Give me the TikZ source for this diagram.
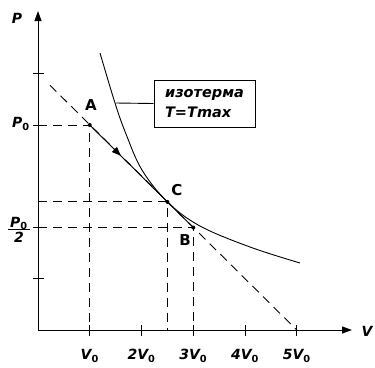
\documentclass[tikz,border=0pt]{standalone}
\usepackage{fontspec}
\setmainfont{DejaVu Sans}
\usetikzlibrary{arrows.meta,decorations.markings}
\newcommand\zsub[1]{\textsubscript{\upshape\bfseries #1}}
\begin{document}
\begin{tikzpicture}[x=1pt,y=-1pt,
  lbl/.style={font=\fontsize{14}{16}\selectfont\bfseries\itshape, inner sep=0pt},
  ptlbl/.style={font=\fontsize{15}{16}\selectfont\bfseries, inner sep=0pt},
  axis/.style={line width=1pt, -{Triangle[length=10pt,width=7pt]}},
  thin/.style={line width=0.9pt},
  dsh/.style={line width=0.9pt, dash pattern=on 9pt off 6pt},
  tick/.style={line width=0.9pt},
  dot/.style={circle, fill=black, inner sep=0pt, minimum size=4pt}]
\useasboundingbox (0,0) rectangle (375,367);
% axes
\coordinate (O) at (38,330);
\coordinate (Ytop) at (38,11);
\coordinate (Xend) at (352,330);
\draw[axis] (O) -- (Ytop);
\draw[axis] (O) -- (Xend);
\node[lbl] (Plab) at (17,18) {P};
\node[lbl] (Vlab) at (367,331) {V};
% x ticks
\foreach \k/\t in {1/V\zsub{0}, 2/2V\zsub{0}, 3/3V\zsub{0}, 4/4V\zsub{0}, 5/5V\zsub{0}}{
  \draw[tick] ({38+51.75*\k},325) -- ({38+51.75*\k},336);
  \node[lbl] (xl\k) at ({38+51.75*\k},356) {\t};
}
% y ticks
\foreach \y in {73.75,125,227.5,278.75}{
  \draw[tick] (33,\y) -- (44,\y);
}
\node[lbl] (P0) at (21,124) {P\zsub{0}};
\node[lbl, align=center] (P02) at (19,232) {\begin{tabular}{@{\,}c@{\,}}P\zsub{0}\\[-3pt]\hline\rule{0pt}{13pt}2\end{tabular}};
% points
\coordinate (A) at (89.75,125);
\coordinate (B) at (193.25,227.5);
\coordinate (C) at (167.4,201.9);
\coordinate (L1) at (50,85.25);
\coordinate (L2) at (296.75,330);
\coordinate (A0) at (89.75,330);
\coordinate (C0) at (167.4,330);
\coordinate (B0) at (193.25,330);
\coordinate (Ay) at (38,125);
\coordinate (Cy) at (38,201.9);
\coordinate (By) at (38,227.5);
% dashed
\draw[dsh] (L1) -- (L2);
\draw[dsh] (Ay) -- (A) -- (A0);
\draw[dsh] (Cy) -- (C) -- (C0);
\draw[dsh] (By) -- (B) -- (B0);
% process line
\draw[thin, decoration={markings, mark=at position 0.3 with {\arrow{Triangle[length=9pt,width=7pt]}}}, postaction={decorate}] (A) -- (B);
\node[dot] (Ad) at (A) {};
\node[dot] (Bd) at (B) {};
\node[dot] (Cd) at (C) {};
\node[ptlbl] (Al) at (91,105) {A};
\node[ptlbl] (Bl) at (185,240) {B};
\node[ptlbl] (Cl) at (177,190) {C};
% isotherm
\draw[thin] plot[smooth, tension=0.6] coordinates {(100,53) (115,103) (126,134) (142,170) (167.4,201.9) (200,226) (250,247) (300,263)};
\coordinate (Iso) at (115.5,103);
\node[draw, thin, minimum width=101pt, minimum height=47pt, align=left, inner sep=3pt,
  font=\fontsize{14.5}{20}\selectfont\bfseries\itshape] (Box) at (204.5,103.5) {изотерма\\T=Tmax};
\draw[thin] (Iso) -- (Box.west);
\end{tikzpicture}
\end{document}
